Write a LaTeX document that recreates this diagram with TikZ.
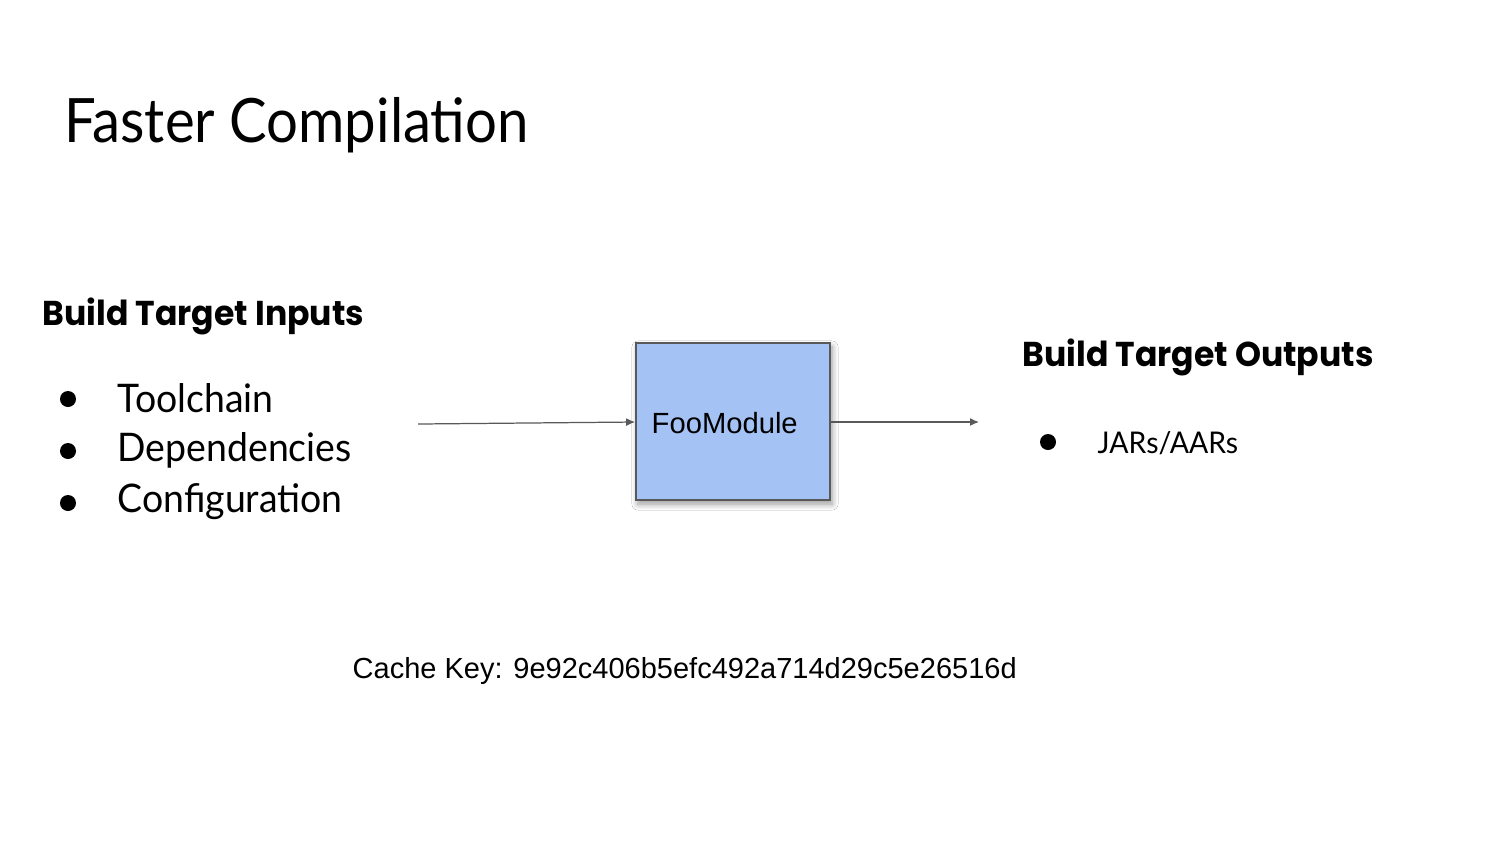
\documentclass[tikz,border=0pt]{standalone}
\usepackage{fontspec}
\setmainfont{Lato}[FakeStretch=0.95]
\newfontfamily\titlefont{Lato}[FakeStretch=0.92]
\newfontfamily\headfont{Poppins}[FakeStretch=0.96]
\newfontfamily\arialfont{Liberation Sans}
\usetikzlibrary{arrows.meta,shadows.blur}
\definecolor{boxblue}{HTML}{A4C2F4}
\definecolor{linegray}{HTML}{595959}
\tikzset{
	heading/.style={anchor=west, inner sep=0pt, font=\headfont\bfseries\fontsize{9.8}{12}\selectfont},
	item/.style={anchor=west, inner sep=0pt, font=\fontsize{11.2}{14}\selectfont},
	dot/.style={circle, fill=black, inner sep=0pt, minimum size=0.16cm},
	flow/.style={draw=linegray, line width=0.35pt, -{Latex[length=0.9mm,width=0.8mm]}}
}
\begin{document}
\begin{tikzpicture}[x=0.01cm, y=-0.01cm]
		%%%%% START %%%%%
		\useasboundingbox[fill=white] (0, 0) rectangle (1500, 844);
		
		\node[anchor=west, inner sep=0pt, font=\titlefont\fontsize{17.4}{21}\selectfont] (title) at (64, 125) {Faster Compilation};
		
		% inputs
		\node[heading] (inhead) at (42, 316) {Build Target Inputs};
		\node[dot] (d1) at (68, 399) {};
		\node[dot] (d2) at (68, 451) {};
		\node[dot] (d3) at (68, 503) {};
		\node[item] (tool) at (117, 398) {Toolchain};
		\node[item] (deps) at (117, 450) {Dependencies};
		\node[item] (conf) at (117, 502) {Configuration};
		
		% module
		\node[draw=linegray, fill=boxblue, line width=0.5pt, minimum width=1.94cm, minimum height=1.57cm,
			blur shadow={shadow xshift=0.2mm, shadow yshift=-0.4mm, shadow blur steps=6, shadow blur radius=0.6mm, shadow opacity=40}] (foo) at (733, 421.5) {};
		\node[anchor=west, inner sep=0pt, font=\arialfont\fontsize{8.3}{10}\selectfont] (foolabel) at (651, 423) {FooModule};
		\coordinate (src) at (418, 424);
		\coordinate (dst) at (979, 422);
		\draw[flow] (src) -- (foo.west |- 0, 422);
		\draw[flow] (foo.east |- 0, 422) -- (dst);
		
		% outputs
		\node[heading] (outhead) at (1022, 357) {Build Target Outputs};
		\node[dot] (d4) at (1048, 442) {};
		\node[item, font=\fontsize{8.5}{11}\selectfont] (jars) at (1097, 443) {JARs/AARs};
		
		\node[anchor=west, inner sep=0pt, font=\arialfont\fontsize{8.25}{10}\selectfont] (cache) at (352, 671) {Cache Key: 9e92c406b5efc492a714d29c5e26516d};
		%%%%% END %%%%%
	\end{tikzpicture}
\end{document}
